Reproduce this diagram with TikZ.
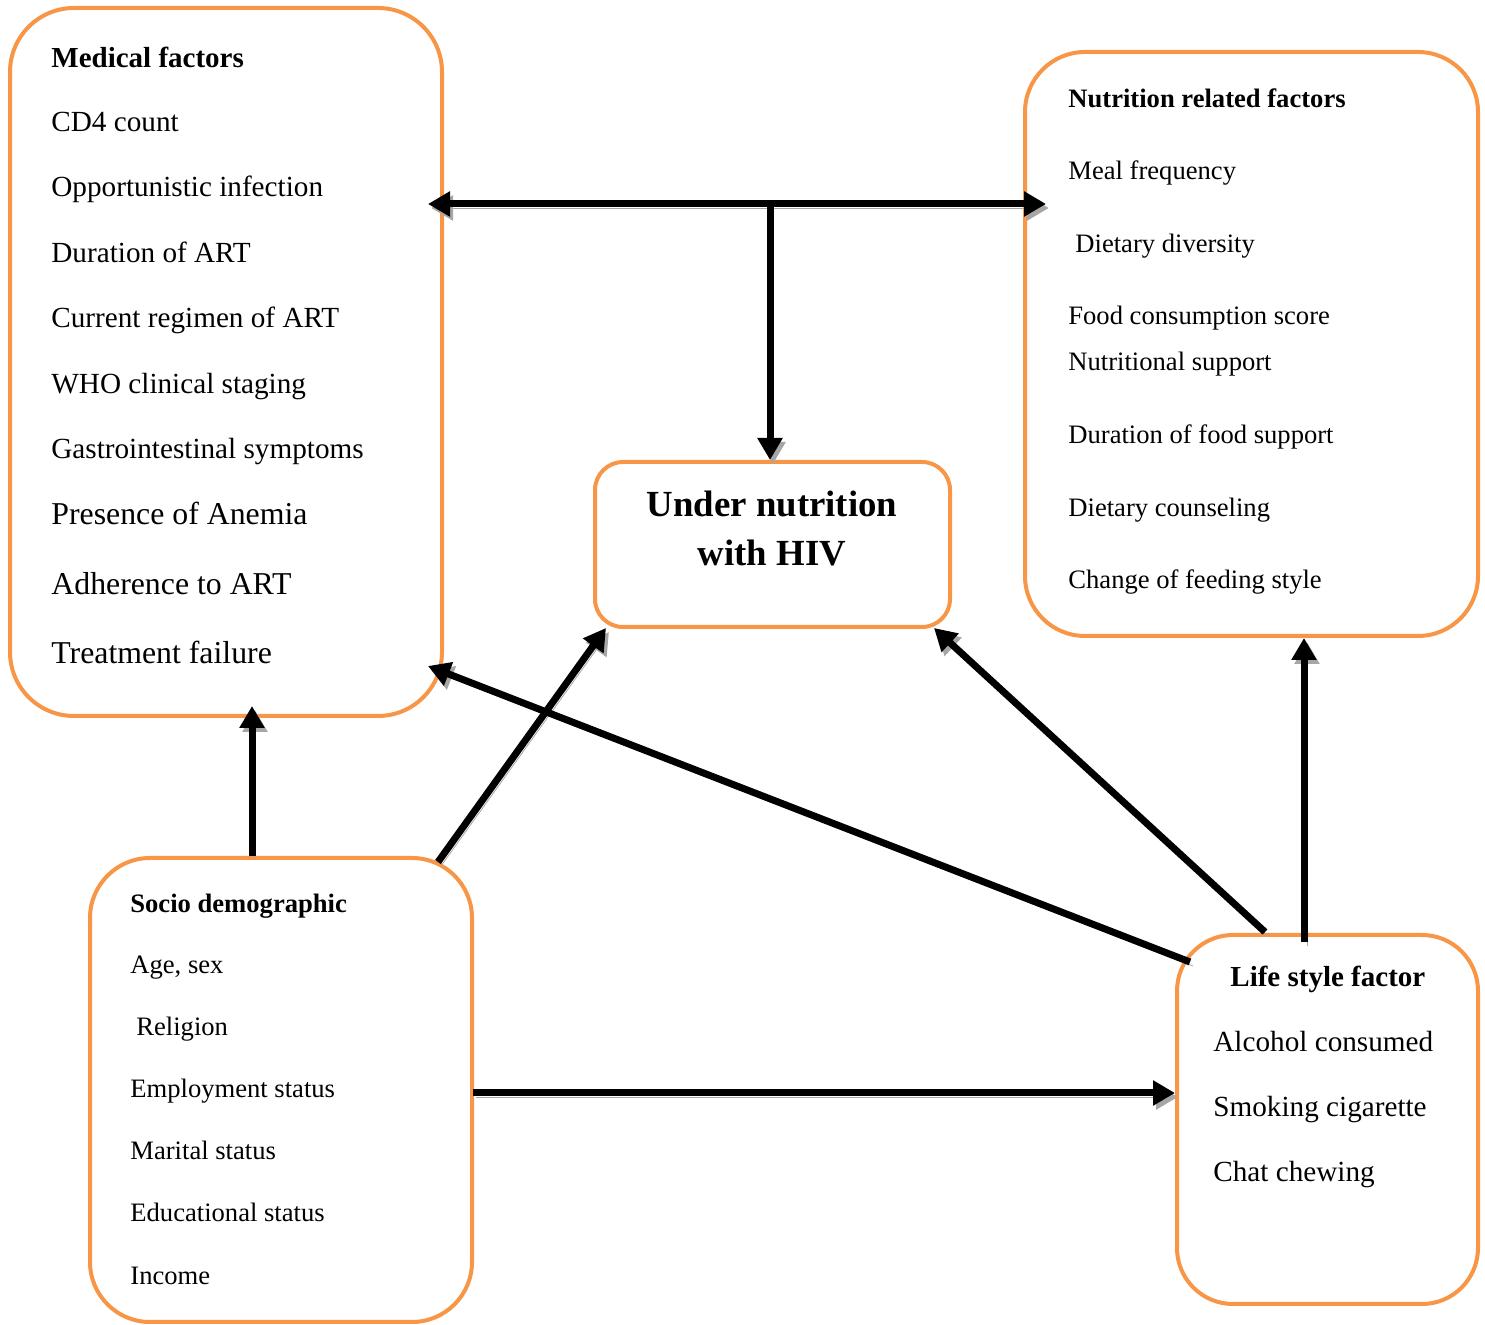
\documentclass[tikz,border=0pt]{standalone}
\usepackage{fontspec}
\setmainfont{Liberation Serif}
\usepackage{xcolor}
\usepackage{tikz}
\usetikzlibrary{arrows.meta,positioning,calc}

\definecolor{boxorange}{HTML}{F79646}
\definecolor{shadowgray}{HTML}{A6A6A6}

\begin{document}
\begin{tikzpicture}[
    x=0.5pt, y=-0.5pt,
    factorbox/.style={draw=boxorange, line width=2pt, rounded corners=#1, inner sep=0pt},
    bigitem/.style={anchor=base west, inner sep=0pt, font=\fontsize{14.6}{17}\selectfont},
    largeitem/.style={bigitem, font=\fontsize{15.9}{19}\selectfont},
    smallitem/.style={anchor=base west, inner sep=0pt, font=\fontsize{13.3}{16}\selectfont},
    bighead/.style={bigitem, font=\fontsize{14.5}{17}\selectfont\bfseries},
    smallhead/.style={smallitem, font=\fontsize{13.3}{16}\selectfont\bfseries},
    centertitle/.style={anchor=base, inner sep=0pt, font=\fontsize{18.4}{22}\selectfont\bfseries},
    arrow/.style={line width=3.5pt, -{Triangle[length=11pt,width=12pt]},
        preaction={draw=shadowgray, transform canvas={shift={(1.5pt,-2pt)}}}},
    dblarrow/.style={arrow, {Triangle[length=11pt,width=12pt]}-{Triangle[length=11pt,width=12pt]}}
]
\useasboundingbox (0,0) rectangle (1485,1325);

% boxes
\node[factorbox=32pt, minimum width=216pt, minimum height=354pt] (medbox) at (226,362) {};
\node[factorbox=30pt, minimum width=226.5pt, minimum height=292pt] (nutbox) at (1251.5,344) {};
\node[factorbox=14pt, minimum width=177.5pt, minimum height=82.5pt] (undbox) at (772.5,544.5) {};
\node[factorbox=30pt, minimum width=191pt, minimum height=232pt] (socbox) at (281,1090) {};
\node[factorbox=28pt, minimum width=150.5pt, minimum height=184.5pt] (lifebox) at (1327.5,1119.5) {};

% medical factors
\node[bighead] (medhead) at (51,68) {Medical factors};
\node[bigitem] (med1) at (51,132) {CD4 count};
\node[bigitem] (med2) at (51,197) {Opportunistic infection};
\node[bigitem] (med3) at (51,263) {Duration of ART};
\node[bigitem] (med4) at (51,328) {Current regimen of ART};
\node[bigitem] (med5) at (51,394) {WHO clinical staging};
\node[bigitem] (med6) at (51,459) {Gastrointestinal symptoms};
\node[largeitem] (med7) at (51,525) {Presence of Anemia};
\node[largeitem] (med8) at (51,595) {Adherence to ART};
\node[largeitem] (med9) at (51,664) {Treatment failure};

% nutrition related factors
\node[smallhead] (nuthead) at (1068,108) {Nutrition related factors};
\node[smallitem] (nut1) at (1068,180) {Meal frequency};
\node[smallitem] (nut2) at (1075,253) {Dietary diversity};
\node[smallitem] (nut3) at (1068,325) {Food consumption score};
\node[smallitem] (nut4) at (1068,371) {Nutritional support};
\node[smallitem] (nut5) at (1068,444) {Duration of food support};
\node[smallitem] (nut6) at (1068,517) {Dietary counseling};
\node[smallitem] (nut7) at (1068,589) {Change of feeding style};

% outcome
\node[centertitle] (und1) at (772,517) {Under nutrition};
\node[centertitle] (und2) at (772,566) {with HIV};

% socio demographic
\node[smallhead] (sochead) at (130,913) {Socio demographic};
\node[smallitem] (soc1) at (130,974) {Age, sex};
\node[smallitem] (soc2) at (136,1036) {Religion};
\node[smallitem] (soc3) at (130,1098) {Employment status};
\node[smallitem] (soc4) at (130,1160) {Marital status};
\node[smallitem] (soc5) at (130,1222) {Educational status};
\node[smallitem] (soc6) at (130,1285) {Income};

% life style
\node[bighead] (lifehead) at (1230,987) {Life style factor};
\node[bigitem] (life1) at (1213,1052) {Alcohol consumed};
\node[bigitem] (life2) at (1213,1117) {Smoking cigarette};
\node[bigitem] (life3) at (1213,1182) {Chat chewing};

% arrow ends
\coordinate (medR) at (428,204);
\coordinate (nutL) at (1046,204);
\coordinate (hjoin) at (770,204);
\coordinate (medfoot) at (252,706);
\coordinate (socNE) at (438,862);
\coordinate (undSW) at (606,628);
\coordinate (lifeNW) at (1190,962);
\coordinate (medSE) at (428,666);
\coordinate (lifeN) at (1265,932);
\coordinate (undSE) at (934,628);
\coordinate (lifetop) at (1304,942);
\coordinate (socE) at (473,1093);

\draw[dblarrow] (medR) -- (nutL);
\draw[arrow] (hjoin) -- (undbox.north -| hjoin);
\draw[arrow] (socbox.north -| medfoot) -- (medfoot);
\draw[arrow] (socNE) -- (undSW);
\draw[arrow] (lifeNW) -- (medSE);
\draw[arrow] (lifeN) -- (undSE);
\draw[arrow] (lifetop) -- (nutbox.south -| lifetop);
\draw[arrow] (socE) -- (lifebox.west |- socE);
\end{tikzpicture}
\end{document}
